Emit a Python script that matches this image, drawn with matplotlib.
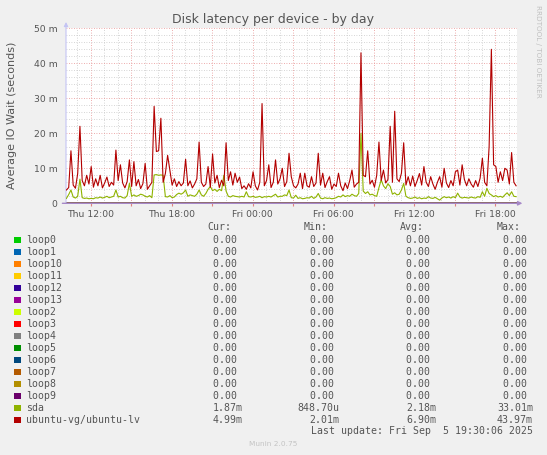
import matplotlib
matplotlib.use("Agg")
import matplotlib.pyplot as plt
import matplotlib.dates as mdates
from matplotlib.patches import Rectangle
import pandas as pd

# samples, one every 10 minutes (values in ms)
start = "2025-09-04 10:12"
step = "10min"

lv = [3.8, 4.5, 15.0, 5.2, 4.3, 8.5, 22.0, 6.5, 5.0, 8.0,
      5.5, 10.5, 4.6, 7.0, 5.0, 8.0, 4.4, 5.8, 7.5, 4.8,
      6.0, 5.2, 15.2, 6.5, 11.0, 5.8, 4.4, 6.2, 12.4, 4.8,
      11.9, 5.0, 6.8, 4.2, 5.6, 11.4, 4.0, 5.0, 6.0, 27.7,
      14.8, 15.0, 24.3, 6.0, 8.5, 13.7, 9.5, 5.2, 7.0, 4.8,
      6.2, 5.0, 5.8, 12.6, 5.0, 6.4, 4.4, 5.5, 7.0, 17.5,
      6.0, 4.8, 5.5, 10.5, 4.6, 14.1, 5.8, 8.0, 4.5, 6.6,
      5.0, 17.3, 6.5, 9.0, 5.2, 8.6, 6.0, 7.5, 4.2, 5.0,
      4.0, 5.6, 4.4, 9.0, 5.0, 3.8, 6.0, 28.5, 5.0, 6.5,
      11.0, 4.5, 6.0, 12.4, 5.5, 7.0, 10.0, 4.8, 6.2, 14.3,
      7.6, 5.0, 4.4, 5.5, 8.6, 4.2, 8.6, 5.0, 4.6, 7.6,
      4.8, 5.8, 14.3, 5.2, 8.6, 4.5, 6.2, 7.6, 4.0, 5.5,
      4.8, 8.6, 5.0, 3.6, 5.8, 4.2, 6.5, 9.5, 4.6, 5.5,
      6.0, 43.0, 8.0, 7.6, 15.0, 5.5, 6.6, 4.6, 8.0, 17.5,
      6.5, 9.5, 5.8, 6.8, 22.0, 6.0, 26.3, 7.0, 6.2, 8.6,
      17.3, 5.2, 7.6, 5.0, 7.8, 4.8, 6.5, 8.5, 5.2, 10.5,
      6.0, 4.8, 7.6, 5.5, 4.0, 6.0, 7.6, 4.6, 10.0, 5.8,
      4.5, 6.5, 5.0, 9.0, 9.5, 5.2, 11.0, 6.8, 5.0, 7.0,
      5.5, 4.6, 6.5, 4.8, 7.2, 12.9, 6.0, 5.0, 16.2, 44.0,
      11.0, 10.5, 6.0, 9.0, 6.5, 10.0, 9.5, 5.5, 14.5, 6.0,
      5.0]

sda = [1.4, 2.5, 3.8, 1.8, 1.5, 2.0, 6.9, 1.6, 1.4, 1.5,
       1.3, 1.4, 1.3, 1.6, 1.5, 1.8, 1.5, 1.7, 2.0, 1.6,
       1.8, 2.0, 3.8, 1.8, 2.0, 1.6, 1.5, 2.2, 5.7, 2.0,
       2.4, 2.0, 2.2, 2.6, 2.4, 2.0, 1.8, 2.2, 1.6, 8.1,
       8.2, 8.0, 8.1, 8.0, 1.9, 1.8, 2.2, 1.6, 1.8, 2.5,
       2.9, 2.6, 3.0, 3.8, 2.0, 2.4, 2.2, 2.0, 2.6, 3.8,
       2.4, 2.0, 2.8, 4.0, 4.8, 3.6, 4.0, 3.4, 4.0, 3.6,
       8.0, 3.5, 2.0, 1.8, 2.2, 2.0, 1.9, 1.8, 2.0, 1.8,
       3.3, 1.9, 1.8, 2.0, 1.7, 1.8, 2.0, 1.6, 1.9, 1.8,
       2.0, 1.8, 2.2, 2.6, 1.8, 2.0, 2.0, 2.4, 2.2, 3.8,
       1.6, 1.5, 2.3, 1.4, 1.6, 1.3, 1.4, 1.6, 1.5, 2.0,
       1.4, 1.8, 2.8, 1.5, 1.3, 1.6, 1.4, 1.5, 1.3, 1.4,
       1.6, 2.0, 1.8, 2.4, 1.9, 2.2, 2.0, 2.6, 2.2, 2.0,
       2.8, 20.0, 3.5, 2.8, 3.3, 2.4, 2.6, 2.2, 2.0, 4.5,
       6.7, 5.0, 4.2, 5.6, 4.8, 2.6, 3.0, 2.4, 2.6, 3.8,
       5.7, 2.0, 1.6, 1.4, 1.5, 1.8, 1.4, 1.6, 1.3, 1.5,
       1.4, 1.9, 1.5, 1.4, 1.7, 1.3, 0.9, 1.5, 1.9, 1.6,
       1.8, 1.5, 1.9, 1.6, 2.9, 1.8, 1.5, 1.7, 1.6, 1.5,
       1.8, 1.6, 1.5, 1.9, 1.7, 3.3, 2.0, 4.3, 2.8, 2.4,
       1.9, 2.2, 1.8, 2.0, 1.7, 2.4, 3.0, 2.2, 3.3, 2.0,
       1.9]

names = ["loop0", "loop1", "loop10", "loop11", "loop12", "loop13", "loop2",
         "loop3", "loop4", "loop5", "loop6", "loop7", "loop8", "loop9",
         "sda", "ubuntu-vg/ubuntu-lv"]
colors = ["#00CC00", "#0066B3", "#FF8000", "#FFCC00", "#330099", "#990099",
          "#CCFF00", "#FF0000", "#808080", "#008F00", "#00487D", "#B35A00",
          "#B38F00", "#6B006B", "#8FB300", "#B30000"]
cur = ["0.00 "] * 14 + ["1.87m", "4.99m"]
mins = ["0.00 "] * 14 + ["848.70u", "2.01m"]
avgs = ["0.00 "] * 14 + ["2.18m", "6.90m"]
maxs = ["0.00 "] * 14 + ["33.01m", "43.97m"]

yticks = [0, 10, 20, 30, 40, 50]
ytick_labels = ["0", "10 m", "20 m", "30 m", "40 m", "50 m"]
xtick_times = ["2025-09-04 12:00", "2025-09-04 15:00", "2025-09-04 18:00",
               "2025-09-04 21:00", "2025-09-05 00:00", "2025-09-05 03:00",
               "2025-09-05 06:00", "2025-09-05 09:00", "2025-09-05 12:00",
               "2025-09-05 15:00", "2025-09-05 18:00"]
xtick_labels = ["Thu 12:00", "", "Thu 18:00", "", "Fri 00:00", "",
                "Fri 06:00", "", "Fri 12:00", "", "Fri 18:00"]

W, H = 547, 455
txt = "#555555"
fig = plt.figure(figsize=(W / 100, H / 100), dpi=100, facecolor="#f0f0f0")


def fx(x):
    return x / W


def fy(y):
    return 1 - y / H


ax_w = fx(517) - fx(66)
ax = fig.add_axes([fx(66), fy(203.3), ax_w, fy(28.3) - fy(203.3)])
ax.set_facecolor("white")

t = pd.date_range(start, periods=len(lv), freq=step)
for n, c in zip(names[:14], colors[:14]):
    ax.plot(t, [0] * len(t), color=c, lw=1.0, zorder=3)
ax.plot(t, sda, color=colors[14], lw=0.8, zorder=4)
ax.plot(t, lv, color=colors[15], lw=0.8, zorder=5)

ax.set_ylim(0, 50)
ax.set_xlim(pd.Timestamp("2025-09-04 10:10"), pd.Timestamp("2025-09-05 19:36"))
ax.set_yticks(yticks)
ax.set_yticklabels(ytick_labels)
ax.set_yticks(range(0, 51, 2), minor=True)
ax.set_xticks(pd.to_datetime(xtick_times))
ax.set_xticklabels(xtick_labels)
ax.xaxis.set_minor_locator(mdates.HourLocator())

ax.grid(True, which="minor", color="#c8c8c8", lw=0.6, ls=(0, (1, 2)))
ax.grid(True, which="major", color="#e89090", lw=0.6, ls=(0, (1, 2)))
ax.set_axisbelow(True)

ax.tick_params(which="both", labelsize=6.7, labelcolor=txt, pad=3)
ax.tick_params(axis="x", which="major", length=2, color="#e08080")
ax.tick_params(axis="x", which="minor", length=0)
ax.tick_params(axis="y", which="both", length=0, pad=6)
for s in ax.spines.values():
    s.set_visible(False)

ax.annotate("", xy=(0, 1.036), xytext=(0, 0), xycoords="axes fraction",
            arrowprops=dict(arrowstyle="-|>", color="#c4c4f4", lw=0.8,
                            mutation_scale=6, shrinkA=0, shrinkB=0))
ax.annotate("", xy=(1.012, 0), xytext=(-0.008, 0), xycoords="axes fraction",
            arrowprops=dict(arrowstyle="-|>", color="#a688c8", lw=1.0,
                            mutation_scale=6, shrinkA=0, shrinkB=0), zorder=6)

ax.set_ylabel("Average IO Wait (seconds)", fontsize=8, color=txt)
ax.yaxis.set_label_coords((fx(17) - fx(66)) / ax_w, 0.5)

fig.text(fx(273), fy(19), "Disk latency per device - by day", fontsize=9,
         color=txt, ha="center", va="center")
fig.text(fx(538), fy(5), "RRDTOOL / TOBI OETIKER", fontsize=5.2,
         color="#c0c0c0", rotation=-90, ha="center", va="top")

mono = "DejaVu Sans Mono"
fs = 7.1
for x, h in zip([207, 303.5, 400, 496.5], ["Cur:", "Min:", "Avg:", "Max:"]):
    fig.text(fx(x), fy(227.5), h, family=mono, fontsize=fs, color=txt,
             ha="left", va="center")
for k in range(len(names)):
    y = 239.7 + 12 * k
    fig.patches.append(Rectangle((fx(14), fy(y + 3.5)), fx(6.5), fy(0) - fy(6.5),
                                 transform=fig.transFigure, facecolor=colors[k],
                                 edgecolor="none"))
    fig.text(fx(26), fy(y), names[k], family=mono, fontsize=fs, color=txt,
             ha="left", va="center")
    for x, v in zip([243, 339.5, 436, 533], [cur[k], mins[k], avgs[k], maxs[k]]):
        fig.text(fx(x), fy(y), v, family=mono, fontsize=fs, color=txt,
                 ha="right", va="center")

fig.text(fx(533), fy(431.5), "Last update: Fri Sep  5 19:30:06 2025", family=mono,
         fontsize=fs, color=txt, ha="right", va="center")
fig.text(fx(273), fy(444.5), "Munin 2.0.75", fontsize=5.3, color="#c4c4c4",
         ha="center", va="center")

fig.savefig("out.png", dpi=100, facecolor=fig.get_facecolor())
